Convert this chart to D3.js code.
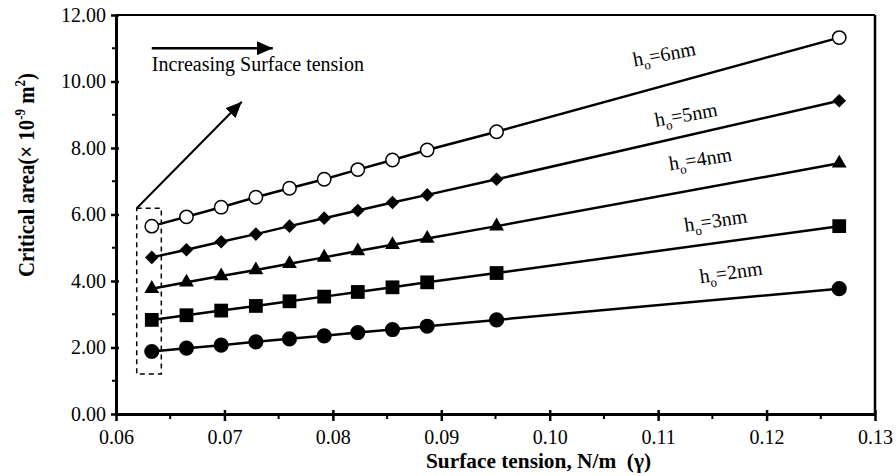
<!DOCTYPE html>
<html>
<head>
<meta charset="utf-8">
<script src="https://cdn.jsdelivr.net/npm/d3@7"></script>
<style>
  body { margin: 0; background: #fff; }
  svg { display: block; }
  text { font-family: "Liberation Serif", "Times New Roman", serif; fill: #000; }
</style>
</head>
<body>
<div id="chart"></div>
<script>

// surface tension (N/m)
const tension = [0.0633, 0.0665, 0.0697, 0.0729, 0.0760, 0.0792, 0.0823, 0.0855, 0.0887, 0.0951, 0.1267];

// critical area (x 10^-9 m^2) for each film thickness
const area2nm = [1.88, 1.98, 2.07, 2.17, 2.26, 2.35, 2.45, 2.54, 2.64, 2.83, 3.77];
const area3nm = [2.83, 2.97, 3.11, 3.25, 3.39, 3.53, 3.67, 3.81, 3.96, 4.24, 5.65];
const area4nm = [3.77, 3.96, 4.15, 4.33, 4.52, 4.71, 4.90, 5.09, 5.28, 5.65, 7.54];
const area5nm = [4.71, 4.94, 5.18, 5.41, 5.65, 5.89, 6.12, 6.36, 6.59, 7.06, 9.42];
const area6nm = [5.65, 5.93, 6.22, 6.52, 6.79, 7.06, 7.35, 7.64, 7.94, 8.49, 11.32];

const seriesNames = ['6nm', '5nm', '4nm', '3nm', '2nm'];

const xTicks = [0.06, 0.07, 0.08, 0.09, 0.10, 0.11, 0.12, 0.13];
const yTicks = [0, 2, 4, 6, 8, 10, 12];

const serif = '"Liberation Serif", "Times New Roman", serif';

let width = 896, height = 476;
let margin = {top: 15, right: 21, bottom: 62, left: 116};

let x = d3.scaleLinear().domain([0.06, 0.13]).range([margin.left, width - margin.right]);
let y = d3.scaleLinear().domain([0, 12]).range([height - margin.bottom, margin.top]);

let svg = d3.select('#chart')
  .append('svg')
    .attr('width', width)
    .attr('height', height)
    .attr('font-family', serif);

svg.append('rect').attr('width', width).attr('height', height).attr('fill', '#fff');

let series = [
  {name: seriesNames[0], values: area6nm, shape: 'open', label: [0.1078, 10.45], angle: -10.5},
  {name: seriesNames[1], values: area5nm, shape: 'diamond', label: [0.1098, 8.64], angle: -10},
  {name: seriesNames[2], values: area4nm, shape: 'triangle', label: [0.1111, 7.32], angle: -9},
  {name: seriesNames[3], values: area3nm, shape: 'square', label: [0.1125, 5.48], angle: -8.5},
  {name: seriesNames[4], values: area2nm, shape: 'circle', label: [0.1139, 3.93], angle: -8}
];

// frame (top and right)
svg.append('line')
  .attr('x1', x(0.06)).attr('x2', x(0.13))
  .attr('y1', y(12)).attr('y2', y(12))
  .attr('stroke', '#000').attr('stroke-width', 2);
svg.append('line')
  .attr('x1', x(0.13)).attr('x2', x(0.13))
  .attr('y1', y(12)).attr('y2', y(0))
  .attr('stroke', '#000').attr('stroke-width', 2.5);

// minor ticks
svg.append('g').selectAll('line')
  .data(d3.range(0.065, 0.13, 0.01))
  .join('line')
    .attr('x1', d => x(d)).attr('x2', d => x(d))
    .attr('y1', y(0)).attr('y2', y(0) + 5)
    .attr('stroke', '#000').attr('stroke-width', 2);
svg.append('g').selectAll('line')
  .data(d3.range(1, 12, 2))
  .join('line')
    .attr('x1', x(0.06) - 4).attr('x2', x(0.06))
    .attr('y1', d => y(d)).attr('y2', d => y(d))
    .attr('stroke', '#000').attr('stroke-width', 2);

// axes
let xAxis = d3.axisBottom(x).tickValues(xTicks).tickFormat(d3.format('.2f')).tickSize(7).tickPadding(7).tickSizeOuter(0);
let yAxis = d3.axisLeft(y).tickValues(yTicks).tickFormat(d3.format('.2f')).tickSize(5).tickPadding(5).tickSizeOuter(0);

let xAxisSvg = svg.append('g')
  .attr('transform', `translate(0,${y(0)})`)
  .call(xAxis);
let yAxisSvg = svg.append('g')
  .attr('transform', `translate(${x(0.06)},0)`)
  .call(yAxis);

xAxisSvg.selectAll('.tick line').attr('y1', -4).attr('stroke-width', 2.5);
yAxisSvg.selectAll('.tick line').attr('x1', 3).attr('stroke-width', 2.5);
[xAxisSvg, yAxisSvg].forEach(a => {
  a.attr('font-family', serif).attr('font-size', 20);
  a.select('.domain').attr('stroke-width', 3);
  a.selectAll('.tick text')
    .attr('font-family', serif)
    .style('font-family', serif)
    .style('font-size', '20px');
});
xAxisSvg.selectAll('.tick text').attr('dy', '0.8em');

// series lines
let line = d3.line()
  .x(d => x(d.t))
  .y(d => y(d.a));

let symbols = {
  circle: d3.symbol().type(d3.symbolCircle).size(180),
  square: d3.symbol().type(d3.symbolSquare).size(190),
  triangle: d3.symbol().type(d3.symbolTriangle).size(95),
  diamond: d3.symbol().type(d3.symbolSquare).size(92),
  open: d3.symbol().type(d3.symbolCircle).size(140)
};

series.forEach(s => {
  let pts = s.values.map((a, i) => ({t: tension[i], a: a}));
  let g = svg.append('g').attr('class', 'series');

  g.append('path')
    .attr('d', line(pts))
    .attr('fill', 'none')
    .attr('stroke', '#000')
    .attr('stroke-width', 2.5);

  g.selectAll('.pt')
    .data(pts)
    .join('path')
      .attr('class', 'pt')
      .attr('d', symbols[s.shape]())
      .attr('transform', d => `translate(${x(d.t)},${y(d.a)})` + (s.shape === 'diamond' ? ' rotate(45)' : ''))
      .attr('fill', s.shape === 'open' ? '#fff' : '#000')
      .attr('stroke', '#000')
      .attr('stroke-width', s.shape === 'open' ? 1.5 : 0);

  let lab = g.append('text')
    .attr('transform', `translate(${x(s.label[0])},${y(s.label[1])}) rotate(${s.angle})`)
    .attr('font-family', serif)
    .style('font-size', '20px');
  lab.append('tspan').text('h');
  lab.append('tspan').attr('dy', 5).style('font-size', '13px').text('o');
  lab.append('tspan').attr('dy', -5).text('=' + s.name);
});

// annotations
let defs = svg.append('defs');
defs.append('marker')
  .attr('id', 'head')
  .attr('markerUnits', 'userSpaceOnUse')
  .attr('viewBox', '0 0 16 14')
  .attr('refX', 16).attr('refY', 7)
  .attr('markerWidth', 16).attr('markerHeight', 14)
  .attr('orient', 'auto')
  .append('path')
    .attr('d', 'M0,0L16,7L0,14Z')
    .attr('fill', '#000');

// dashed box around the first points
svg.append('rect')
  .attr('x', x(0.06191))
  .attr('y', y(6.19))
  .attr('width', x(0.06418) - x(0.06191))
  .attr('height', y(1.20) - y(6.19))
  .attr('fill', 'none')
  .attr('stroke', '#000')
  .attr('stroke-width', 1.5)
  .attr('stroke-dasharray', '5,4');

svg.append('line')
  .attr('x1', x(0.06191)).attr('y1', y(6.19))
  .attr('x2', x(0.0716)).attr('y2', y(9.39))
  .attr('stroke', '#000').attr('stroke-width', 2)
  .attr('marker-end', 'url(#head)');

svg.append('line')
  .attr('x1', x(0.0633)).attr('y1', y(11.0))
  .attr('x2', x(0.07446)).attr('y2', y(11.0))
  .attr('stroke', '#000').attr('stroke-width', 2.5)
  .attr('marker-end', 'url(#head)');

svg.append('text')
  .attr('x', x(0.0633)).attr('y', y(10.32))
  .style('font-size', '20px')
  .text('Increasing Surface tension');

// axis titles
svg.append('text')
  .attr('x', 426).attr('y', 468)
  .attr('textLength', 225).attr('lengthAdjust', 'spacingAndGlyphs')
  .style('font-size', '20px').style('font-weight', 'bold')
  .style('white-space', 'pre')
  .text('Surface tension, N/m  (\u03b3)');

let yTitle = svg.append('text')
  .attr('transform', 'translate(34,175) rotate(-90)')
  .attr('text-anchor', 'middle')
  .attr('textLength', 204).attr('lengthAdjust', 'spacingAndGlyphs')
  .style('font-size', '24px').style('font-weight', 'bold');
yTitle.append('tspan').text('Critical area(\u00d7 10');
yTitle.append('tspan').attr('dy', -9).style('font-size', '15px').text('-9');
yTitle.append('tspan').attr('dy', 9).text(' m');
yTitle.append('tspan').attr('dy', -9).style('font-size', '15px').text('2');
yTitle.append('tspan').attr('dy', 9).text(')');

</script>
</body>
</html>
